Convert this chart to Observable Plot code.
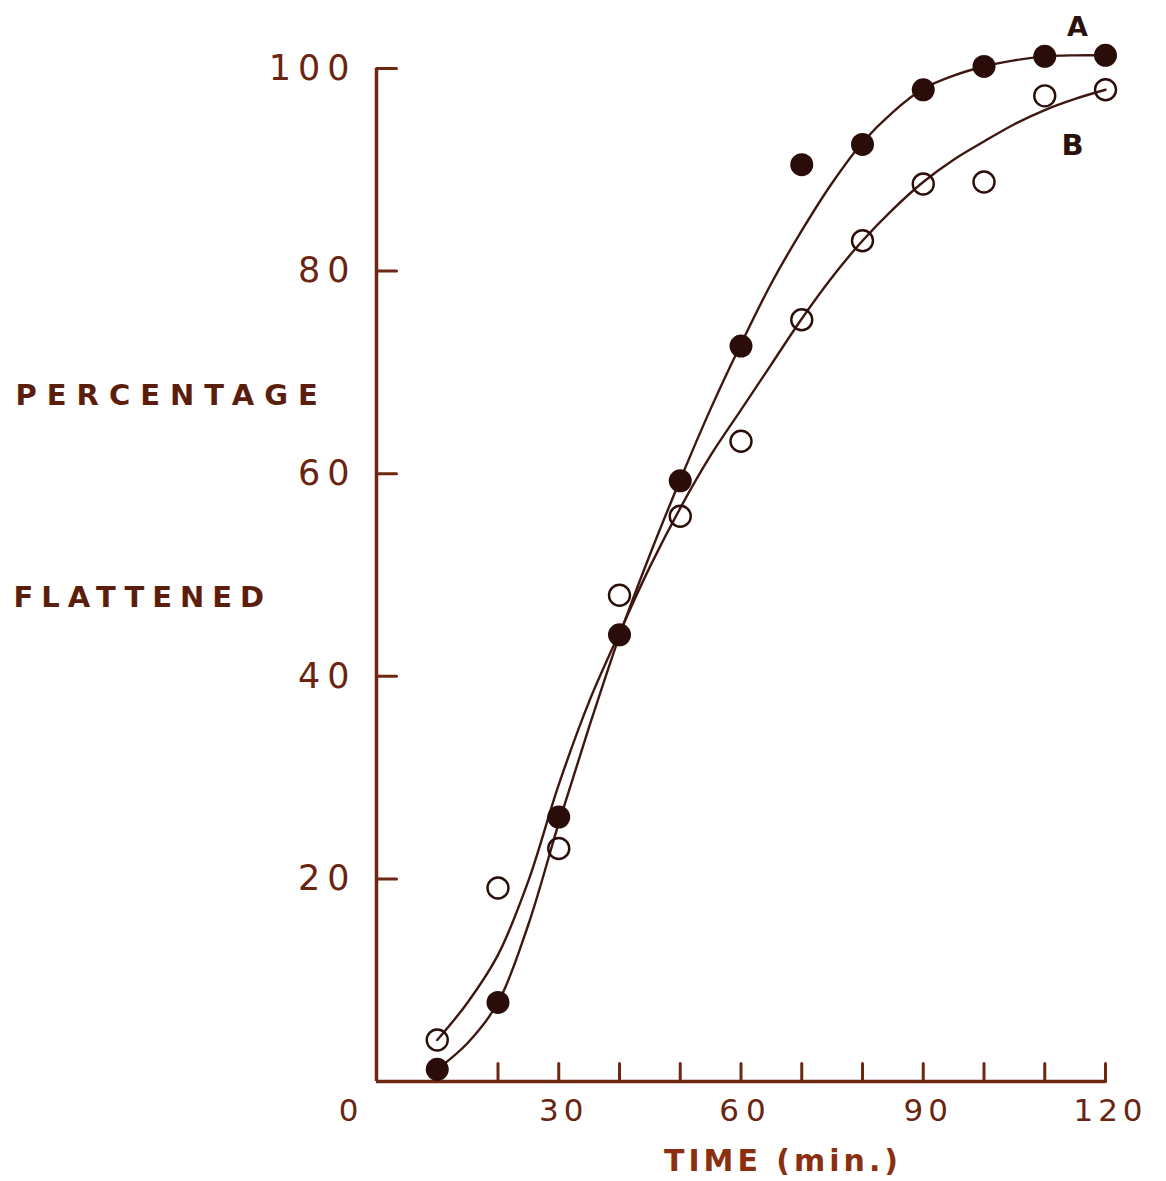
<!DOCTYPE html>
<html>
<head>
<meta charset="utf-8">
<script src="https://cdn.jsdelivr.net/npm/d3@7"></script>
<script src="https://cdn.jsdelivr.net/npm/@observablehq/plot@0.6"></script>
<style>
  body { margin: 0; background: #fff; }
  #chart svg { display: block; }
</style>
</head>
<body>
<div id="chart"></div>
<script>
// ---- data ----
const times = [10, 20, 30, 40, 50, 60, 70, 80, 90, 100, 110, 120];
const seriesA = [1.2, 7.8, 26.1, 44.1, 59.3, 72.6, 90.5, 92.5, 97.9, 100.2, 101.2, 101.3];   // filled circles
const seriesB = [4.1, 19.1, 23.0, 48.0, 55.8, 63.2, 75.2, 83.0, 88.6, 88.8, 97.3, 97.9];     // open circles

// fitted curves, every 5 minutes
const curveTimes = [10, 15, 20, 25, 30, 35, 40, 45, 50, 55, 60, 65, 70, 75, 80, 85, 90, 95, 100, 105, 110, 115, 120];
const curveA = [1.2, 3.8, 7.8, 15.5, 25.5, 35.0, 44.0, 52.0, 59.4, 66.4, 72.8, 78.8, 84.0, 88.7, 92.7, 95.7, 98.0, 99.3, 100.2, 100.8, 101.2, 101.3, 101.3];
const curveB = [4.1, 7.8, 12.5, 19.8, 29.3, 37.5, 44.3, 50.8, 56.6, 61.8, 66.3, 70.8, 75.3, 79.4, 83.0, 86.1, 88.8, 91.0, 92.8, 94.5, 95.9, 97.0, 97.9];

const xTicks = [10, 20, 30, 40, 50, 60, 70, 80, 90, 100, 110, 120];
const xTickLabels = [30, 60, 90, 120];
const xOrigin = [0];
const yTicks = [20, 40, 60, 80, 100];
const seriesNames = ["A", "B"];
const yTitles = ["PERCENTAGE", "FLATTENED"];
const xTitle = "TIME (min.)";

// ---- tables built from the arrays ----
const pointsA = times.map((t, i) => ({t, v: seriesA[i]}));
const pointsB = times.map((t, i) => ({t, v: seriesB[i]}));
const lineA = curveTimes.map((t, i) => ({t, v: curveA[i]}));
const lineB = curveTimes.map((t, i) => ({t, v: curveB[i]}));

const axisColor = "#6e2812";
const textColor = "#6a2410";
const curveColor = "#3e1810";
const dotColor = "#2a0d08";

const tickShape = {draw(context, l) { context.moveTo(0, 0); context.lineTo(0, -l); }};

const chart = Plot.plot({
  width: 1166,
  height: 1181,
  marginLeft: 376,
  marginRight: 61,
  marginTop: 68,
  marginBottom: 100,
  x: {domain: [0, 120], axis: null},
  y: {domain: [0, 100], axis: null},
  style: {background: "#ffffff", fontFamily: "DejaVu Sans", overflow: "visible"},
  marks: [
    // axes lines
    Plot.ruleX([0], {y1: 0, y2: 100, stroke: axisColor, strokeWidth: 3.5}),
    Plot.ruleY([0], {x1: 0, x2: 120, stroke: axisColor, strokeWidth: 3.5}),
    // inward ticks
    Plot.vector(xTicks, {x: d => d, y: 0, length: 18, rotate: 0, anchor: "start", shape: tickShape, stroke: axisColor, strokeWidth: 3}),
    Plot.vector(yTicks, {x: 0, y: d => d, length: 20, rotate: 90, anchor: "start", shape: tickShape, stroke: axisColor, strokeWidth: 3}),
    // tick labels
    Plot.text(yTicks, {y: d => d, frameAnchor: "left", dx: -20, textAnchor: "end", lineAnchor: "middle", fontSize: 35, fill: textColor}),
    Plot.text(xTickLabels, {x: d => d, frameAnchor: "bottom", dx: 5, dy: 30, textAnchor: "middle", lineAnchor: "middle", fontSize: 31, fill: textColor}),
    Plot.text(xOrigin, {x: d => d, frameAnchor: "bottom", dx: -28, dy: 30, textAnchor: "middle", lineAnchor: "middle", fontSize: 31, fill: textColor}),
    // fitted curves
    Plot.line(lineA, {x: "t", y: "v", curve: "catmull-rom", stroke: curveColor, strokeWidth: 2.4}),
    Plot.line(lineB, {x: "t", y: "v", curve: "catmull-rom", stroke: curveColor, strokeWidth: 2.4}),
    // observed points
    Plot.dot(pointsB, {x: "t", y: "v", r: 10.5, fill: "#ffffff", fillOpacity: 0, stroke: dotColor, strokeWidth: 2.4}),
    Plot.dot(pointsA, {x: "t", y: "v", r: 11.5, fill: dotColor, stroke: "none"}),
    // series labels
    Plot.text([seriesNames[0]], {frameAnchor: "top-right", dx: -28, dy: -41, text: d => d, textAnchor: "middle", lineAnchor: "middle", fontSize: 27, fontWeight: "bold", fill: "#2a120c"}),
    Plot.text([seriesNames[1]], {frameAnchor: "top-right", dx: -33, dy: 77, text: d => d, textAnchor: "middle", lineAnchor: "middle", fontSize: 29, fontWeight: "bold", fill: "#2a120c"}),
    // axis titles
    Plot.text([yTitles[0]], {frameAnchor: "top-left", dx: -361, dy: 327, text: d => d, textAnchor: "start", lineAnchor: "middle", fontSize: 29, fontWeight: "bold", fill: "#5c1e0c"}),
    Plot.text([yTitles[1]], {frameAnchor: "top-left", dx: -363, dy: 529, text: d => d, textAnchor: "start", lineAnchor: "middle", fontSize: 29, fontWeight: "bold", fill: "#5c1e0c"}),
    Plot.text([xTitle], {frameAnchor: "bottom", dx: 42, dy: 80, text: d => d, textAnchor: "middle", lineAnchor: "middle", fontSize: 30, fontWeight: "bold", fill: "#8a3010"})
  ]
});

// letter spacing (the reference uses widely spaced stencil lettering)
d3.select(chart).selectAll("text").each(function() {
  const t = this.textContent;
  let ls = null;
  if (yTicks.map(String).includes(t)) ls = 7;
  else if (xTickLabels.map(String).includes(t)) ls = 5;
  else if (t === yTitles[0]) ls = 10;
  else if (t === yTitles[1]) ls = 8;
  else if (t === xTitle) ls = 4;
  if (ls !== null) this.style.letterSpacing = ls + "px";
});

document.getElementById("chart").appendChild(chart);
</script>
</body>
</html>
